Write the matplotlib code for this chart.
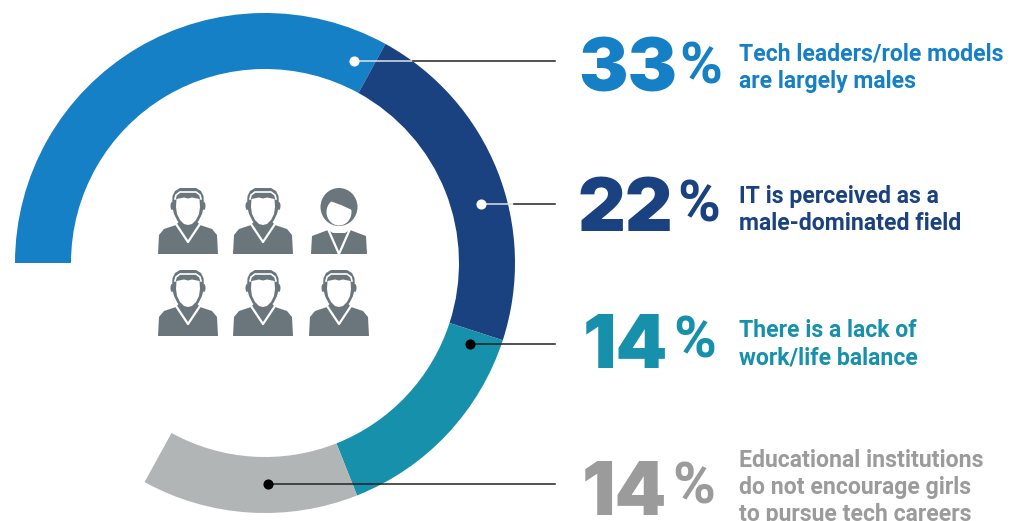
import matplotlib
matplotlib.use('Agg')
import matplotlib.pyplot as plt
from matplotlib.patches import Ellipse, Polygon

shares = [33, 22, 14, 14]
big_labels = ['33', '22', '14', '14']
colors = ['#1580c6', '#1a4180', '#1790ab', '#b2b5b5']
text_colors = ['#1580c6', '#1a4180', '#1790ab', '#9b9b9b']
captions = [
    ['Tech leaders/role models', 'are largely males'],
    ['IT is perceived as a', 'male-dominated field'],
    ['There is a lack of', 'work/life balance'],
    ['Educational institutions', 'do not encourage girls', 'to pursue tech careers'],
]

# layout, in pixels of the 1021x521 picture
H = 521
big_x = [578, 578, 583, 582]
big_base = [92, 231, 368, 515]
pct_x = [679, 677, 673, 672]
pct_base = [83, 222, 357, 503]
cap_base = [61, 203, 337, 467]
leader_y = [61, 204, 344, 484]
dot_x = [354, 481, 470, 268]
dot_col = ['white', 'white', 'black', 'black']
white_to = [413, 514, 470, 268]
icon_col = '#6b767c'

fig = plt.figure(figsize=(10.21, 5.21), dpi=100)
ax = fig.add_axes([0, 0, 1, 1])

ax.pie([s / 100 for s in shares], colors=colors, startangle=180, counterclock=False,
       normalize=False, radius=250, center=(265, H - 263),
       wedgeprops=dict(width=56, linewidth=0))
ax.set_xlim(0, 1021)
ax.set_ylim(0, H)
ax.set_aspect('equal')
ax.axis('off')


def px(size):
    return size * 0.72


for i in range(4):
    y = H - leader_y[i]
    if white_to[i] > dot_x[i]:
        ax.plot([dot_x[i], white_to[i]], [y, y], color='#dfe3e8', lw=1.1, zorder=3)
    ax.plot([white_to[i], 555], [y, y], color='#222222', lw=1.1, zorder=3)
    ax.plot(dot_x[i], y, 'o', color=dot_col[i], ms=7.3, mew=0, zorder=4)

    ax.text(big_x[i], H - big_base[i], big_labels[i], color=text_colors[i], fontsize=px(74),
            family='Inter', weight='black', va='baseline')
    ax.text(pct_x[i], H - pct_base[i], '%', color=text_colors[i], fontsize=px(58),
            family='Roboto', weight='bold', va='baseline')
    for j, line in enumerate(captions[i]):
        ax.text(739, H - (cap_base[i] + 27 * j), line, color=text_colors[i], fontsize=px(23),
                family='Roboto', weight='bold', va='baseline')


def to_fig(cx, base, pts):
    return [(cx + x, H - base + y) for x, y in pts]


def man(cx, base):
    y0 = H - base
    body = [(-30, 0), (-29, 19), (-24, 25), (-12, 29), (-6, 36), (6, 36), (12, 29), (24, 25), (29, 19), (30, 0)]
    ax.add_patch(Polygon(to_fig(cx, base, body), fc=icon_col, ec='none', zorder=5))
    ax.plot(*zip(*to_fig(cx, base, [(-12, 30), (0, 12), (12, 30)])), color='white', lw=1.6, zorder=6)
    rim = [(-16, 48), (-15.5, 58), (-13, 63), (-8, 66), (8, 66), (13, 63), (15.5, 58), (16, 48),
           (14, 40), (10.5, 33), (6, 28.5), (0, 27), (-6, 28.5), (-10.5, 33), (-14, 40)]
    ax.add_patch(Polygon(to_fig(cx, base, rim), fc=icon_col, ec='none', zorder=6))
    ax.add_patch(Ellipse((cx - 16, y0 + 48), 3, 8, fc=icon_col, ec='none', zorder=6))
    ax.add_patch(Ellipse((cx + 16, y0 + 48), 3, 8, fc=icon_col, ec='none', zorder=6))
    face = [(-11.5, 55), (-12, 47), (-11, 40), (-8, 34), (-4, 30), (0, 29), (4, 30), (8, 34), (11, 40),
            (12, 47), (11.5, 55), (4, 56.5), (0, 55.5), (-4, 56.5)]
    ax.add_patch(Polygon(to_fig(cx, base, face), fc='white', ec='none', zorder=7))
    ax.plot(*zip(*to_fig(cx, base, [(-13, 55), (-12, 59), (-8, 62), (8, 62), (12, 59), (13, 55)])),
            color='white', lw=1.2, zorder=9)


def woman(cx, base):
    y0 = H - base
    body = [(-28, 0), (-27, 18), (-11, 24), (-6, 21), (6, 21), (11, 24), (27, 18), (28, 0)]
    ax.add_patch(Polygon(to_fig(cx, base, body), fc=icon_col, ec='none', zorder=5))
    ax.plot(*zip(*to_fig(cx, base, [(-11, 25), (0, 0), (11, 25)])), color='white', lw=1.6, zorder=6)
    ax.add_patch(Ellipse((cx, y0 + 47), 37, 38, fc=icon_col, ec='none', zorder=6))
    ax.add_patch(Ellipse((cx, y0 + 42), 25, 27, fc='white', ec='none', zorder=7))
    fringe = [(-14, 52), (-9, 53), (2, 49), (13, 44), (16, 55), (6, 62), (-8, 62)]
    ax.add_patch(Polygon(to_fig(cx, base, fringe), fc=icon_col, ec='none', zorder=8))


for cx in [188, 263, 339]:
    man(cx, 336)
for cx in [188, 263]:
    man(cx, 254)
woman(339, 254)

fig.savefig('out.png', dpi=100, facecolor='white')
